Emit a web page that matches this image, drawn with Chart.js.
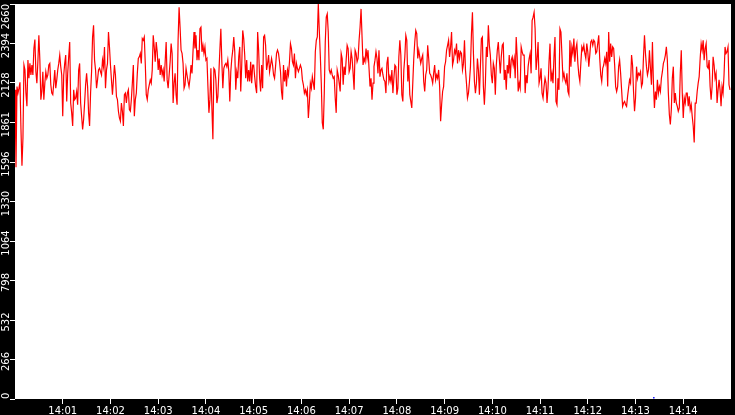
<!DOCTYPE html>
<html>
<head>
<meta charset="utf-8">
<title>rate</title>
<script src="https://cdn.jsdelivr.net/npm/chart.js@4.4.1/dist/chart.umd.min.js"></script>
<style>
    html, body { margin: 0; padding: 0; background: #000; }
    #wrap { width: 735px; height: 415px; }
</style>
</head>
<body>
<div id="wrap"><canvas id="rateChart" width="735" height="415"></canvas></div>
<script>
/* one sample every 1.25 s, 14:00:00 -> 14:15:00 */
const SAMPLE_STEP = 1.25;

const samples = [
    // 14:00 - 14:02:30
    2082,1560,2104,2060,2093,2133,1816,1571,1760,2249,2216,2060,1971,2282,2160,2260,2182,2249,2182,2360,
    2420,2204,2127,2271,2449,2282,2016,2071,2204,2016,2127,2204,2160,2182,2249,2260,2116,2060,2049,2127,
    2216,2093,2149,2216,2260,2316,2238,2182,1904,2182,2260,2316,2004,2193,2304,2404,1993,1927,1838,2082,
    2016,2027,2071,1982,2216,2260,1993,1904,1816,1882,1993,2116,2193,2104,1927,1838,2060,2204,2438,2516,
    2282,2216,2093,2149,2216,2227,2204,2182,2282,2238,2371,2093,2216,2260,2471,2371,2249,2149,2049,2149,
    2249,2182,2038,2016,1938,1893,1871,1993,1938,1838,2049,2060,1993,2060,2082,1949,1938,2016,2127,2249,
    // 14:02:30 - 14:05
    1904,2016,2060,2193,2293,2304,2327,2260,2427,2416,2438,2260,2049,2016,2082,2116,2149,2127,2216,2449,
    2371,2271,2404,2338,2216,2293,2182,2249,2182,2216,2138,2271,2404,2149,2093,2182,2271,2393,2327,1993,
    2127,2193,2049,1982,2416,2638,2504,2349,2327,2260,2093,2116,2227,2182,2138,2104,2160,2249,2193,2338,
    2471,2360,2449,2282,2349,2282,2493,2504,2338,2382,2327,2371,2282,2293,2104,1927,2016,2227,1960,1749,
    2227,2216,2149,1993,2038,2193,2349,2493,2271,2093,2227,2249,2260,2238,2282,2204,2004,2204,2293,2349,
    2438,2338,2082,2204,2160,2304,2371,2071,2249,2482,2427,2316,2160,2282,2138,2216,2138,2271,2127,2249,
    // 14:05 - 14:07:30
    2249,2171,2104,2060,2471,2349,2160,2071,2249,2093,2438,2449,2382,2216,2260,2316,2204,2249,2293,2249,
    2182,2160,2238,2327,2349,2327,2271,2204,2071,2016,2249,2138,2216,2104,2216,2182,2271,2393,2360,2271,
    2249,2327,2160,2260,2227,2204,2227,2249,2227,2149,2116,2060,2082,2049,2082,1893,1993,2127,2093,2171,
    2127,2082,2338,2416,2438,2660,2482,2316,2127,1860,1816,2060,2404,2571,2593,2471,2216,2193,2216,2182,
    2160,2171,2027,1927,2216,2182,2127,2071,2327,2293,2116,2238,2182,2282,2382,2360,2204,2227,2338,2293,
    2193,2082,2349,2327,2271,2293,2416,2504,2627,2438,2249,2293,2271,2360,2293,2349,2227,2104,2160,2016,
    // 14:07:30 - 14:10
    2127,2238,2282,2338,2293,2193,2349,2171,2216,2227,2182,2149,2138,2060,2260,2304,2138,2171,2138,2216,
    2060,2160,2249,2238,2049,2093,2304,2416,2316,2049,2004,2216,2304,2449,2416,2138,2249,2049,2004,1960,
    2127,2293,2404,2482,2460,2293,2349,2304,2260,2293,2316,2138,2071,2182,2216,2382,2293,2193,2182,2160,
    2127,2193,2249,2149,2182,2160,2216,2104,1871,1982,2071,2104,2238,2271,2349,2382,2416,2304,2371,2471,
    2249,2282,2349,2327,2393,2260,2349,2293,2338,2327,2216,2260,2416,2216,2127,2027,2060,2138,2238,2460,
    2604,2327,2138,2060,2127,2293,2216,2049,2238,2427,2438,2104,1982,2127,2371,2304,2516,2382,2316,2182,
    // 14:10 - 14:12:30
    2127,2260,2227,2049,2249,2349,2404,2293,2193,2304,2382,2393,2149,2216,2082,2249,2193,2316,2160,2282,
    2304,2249,2293,2160,2438,2304,2071,2127,2093,2371,2338,2316,2316,2060,2182,2127,2238,2293,2327,2193,
    2549,2571,2604,2493,2216,2293,2404,2127,2160,2227,2060,2027,2104,2160,2127,1993,2093,2271,2393,2138,
    2193,2127,2304,2438,2004,1982,2160,2082,2493,2471,2316,2160,2193,2149,2127,2193,2071,2049,2416,2238,
    2371,2327,2427,2271,2360,2393,2260,2182,2138,2260,2371,2349,2382,2327,2293,2393,2338,2238,2316,2404,
    2416,2382,2416,2404,2327,2338,2393,2449,2293,2182,2138,2227,2249,2293,2260,2338,2104,2471,2271,2393,
    // 14:12:30 - 14:15
    2304,2371,2360,2249,2104,2071,2104,2238,2282,2193,2082,1971,1993,2004,1982,1971,2038,2093,2149,2127,
    2316,2249,2071,1938,2027,2238,2160,2193,2182,2204,2104,2127,2304,2449,2327,2238,2182,2216,2349,2227,
    2116,2404,2127,1960,2071,2016,2149,2060,2104,2071,2160,2204,2260,2282,2316,2371,2282,2060,1916,1849,
    1949,2160,2238,1993,2060,1993,1971,1938,1960,2193,2349,2060,1893,2027,1993,2060,2060,1971,2038,1949,
    1982,1904,1838,1727,1993,1993,2071,2127,2171,2293,2393,2349,2416,2282,2360,2393,2238,2227,2282,2104,
    2016,2104,2304,2249,2160,2193,1993,2082,2149,2082,1971,2104,2060,2182,2371,2327,2338,2371,2116,2082
];

// the single blue mark near the floor (seconds, value)
const markerTimes  = [803];
const markerValues = [8];

const yTickValues = [0, 266, 532, 798, 1064, 1330, 1596, 1862, 2128, 2394, 2660];
const yTickLabels = ['0', '266', '532', '798', '1064', '1330', '1596', '1861', '2128', '2394', '2660'];

const xTickValues = [60, 120, 180, 240, 300, 360, 420, 480, 540, 600, 660, 720, 780, 840];
const xTickLabels = ['14:01', '14:02', '14:03', '14:04', '14:05', '14:06', '14:07',
                     '14:08', '14:09', '14:10', '14:11', '14:12', '14:13', '14:14'];

// white plot field on a black canvas
const plotBackground = {
    id: 'plotBackground',
    beforeDraw(chart) {
        const { ctx, chartArea: a, width, height } = chart;
        ctx.save();
        ctx.fillStyle = '#000';
        ctx.fillRect(0, 0, width, height);
        ctx.fillStyle = '#fff';
        ctx.fillRect(a.left, a.top, a.right - a.left, a.bottom - a.top);
        ctx.restore();
    }
};

// keep the rotated y labels at the ends inside the plot height
const clampYLabels = {
    id: 'clampYLabels',
    beforeDraw(chart) {
        const scale = chart.scales.y;
        const { ctx, chartArea: a } = chart;
        const items = scale.getLabelItems();
        ctx.save();
        items.forEach(item => {
            ctx.font = item.font.string;
            const half = ctx.measureText(item.label).width / 2;
            const t = item.options.translation;
            t[1] = Math.min(Math.max(t[1], a.top + half), a.bottom - half);
        });
        ctx.restore();
    }
};

const tickFont = { family: 'DejaVu Sans', size: 10 };

new Chart(document.getElementById('rateChart'), {
    type: 'line',
    data: {
        datasets: [
            {
                data: samples.map((v, i) => ({ x: i * SAMPLE_STEP, y: v })),
                borderColor: '#ff0000',
                borderWidth: 1.2,
                pointRadius: 0,
                tension: 0,
                fill: false
            },
            {
                data: markerTimes.map((t, i) => ({ x: t, y: markerValues[i] })),
                showLine: false,
                pointStyle: 'rect',
                pointRadius: 1,
                borderWidth: 0,
                backgroundColor: '#0000ff'
            }
        ]
    },
    options: {
        responsive: false,
        devicePixelRatio: 1,
        animation: false,
        events: [],
        layout: { padding: 0 },
        plugins: { legend: { display: false }, tooltip: { enabled: false } },
        scales: {
            x: {
                type: 'linear',
                min: 0,
                max: 900,
                afterBuildTicks: s => { s.ticks = xTickValues.map(v => ({ value: v })); },
                afterFit: s => { s.height = 16; s.paddingLeft = 0; s.paddingRight = 0; },
                border: { display: false },
                grid: { drawOnChartArea: false, drawTicks: true, tickLength: 5, color: '#fff' },
                ticks: {
                    autoSkip: false,
                    maxRotation: 0,
                    padding: 1,
                    color: '#fff',
                    font: tickFont,
                    callback: (v, i) => xTickLabels[i]
                }
            },
            y: {
                min: 0,
                max: 2660,
                afterBuildTicks: s => { s.ticks = yTickValues.map(v => ({ value: v })); },
                afterFit: s => { s.width = 15; s.paddingTop = 0; s.paddingBottom = 0; },
                border: { display: false },
                grid: { drawOnChartArea: false, drawTicks: true, tickLength: 5, color: '#fff' },
                ticks: {
                    autoSkip: false,
                    minRotation: 90,
                    maxRotation: 90,
                    crossAlign: 'center',
                    padding: -9,
                    labelOffset: 2,
                    color: '#fff',
                    font: tickFont,
                    callback: (v, i) => yTickLabels[i]
                }
            }
        }
    },
    plugins: [plotBackground, clampYLabels]
});
</script>
</body>
</html>
